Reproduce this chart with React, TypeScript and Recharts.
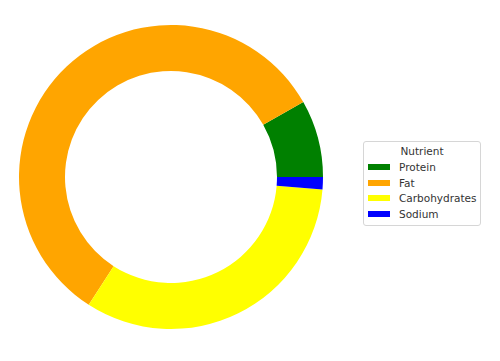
import React from 'react';
import { PieChart, Pie, Cell, Legend } from 'recharts';

const nutrients = ['Protein', 'Fat', 'Carbohydrates', 'Sodium'];
const shares = [8.2, 57.7, 32.8, 1.3];
const colors = ['#008000', '#ffa500', '#ffff00', '#0000ff'];
const legendTitle = 'Nutrient';

const data = nutrients.map((name, i) => ({ name, value: shares[i] }));

// matplotlib-like legend box with a title
const NutrientLegend = () => (
  <div
    style={{
      width: 118,
      height: 85,
      border: '1px solid #d6d6d6',
      borderRadius: 3,
      background: '#fff',
      fontFamily: '"DejaVu Sans", sans-serif',
      fontSize: 10.5,
      color: '#333',
      boxSizing: 'border-box',
      padding: '2px 0 0 4px',
    }}
  >
    <div style={{ textAlign: 'center', lineHeight: '15px', paddingRight: 4 }}>{legendTitle}</div>
    {nutrients.map((n, i) => (
      <div key={n} style={{ display: 'flex', alignItems: 'center', height: 15.7 }}>
        <span style={{ display: 'inline-block', width: 22, height: 6, background: colors[i], marginRight: 9 }} />
        <span>{n}</span>
      </div>
    ))}
  </div>
);

const App = () => (
  <div style={{ position: 'absolute', left: 0, top: 0 }}>
    <PieChart width={500} height={361} margin={{ top: 0, right: 0, bottom: 0, left: 0 }}>
      <Pie
        data={data}
        dataKey="value"
        nameKey="name"
        cx={171}
        cy={177}
        innerRadius={106}
        outerRadius={152}
        startAngle={0}
        endAngle={360}
        stroke="none"
        isAnimationActive={false}
      >
        {data.map((d, i) => (
          <Cell key={d.name} fill={colors[i]} />
        ))}
      </Pie>
      <Legend
        content={<NutrientLegend />}
        wrapperStyle={{ left: 363, top: 141, width: 118 }}
      />
    </PieChart>
  </div>
);

export default App;
